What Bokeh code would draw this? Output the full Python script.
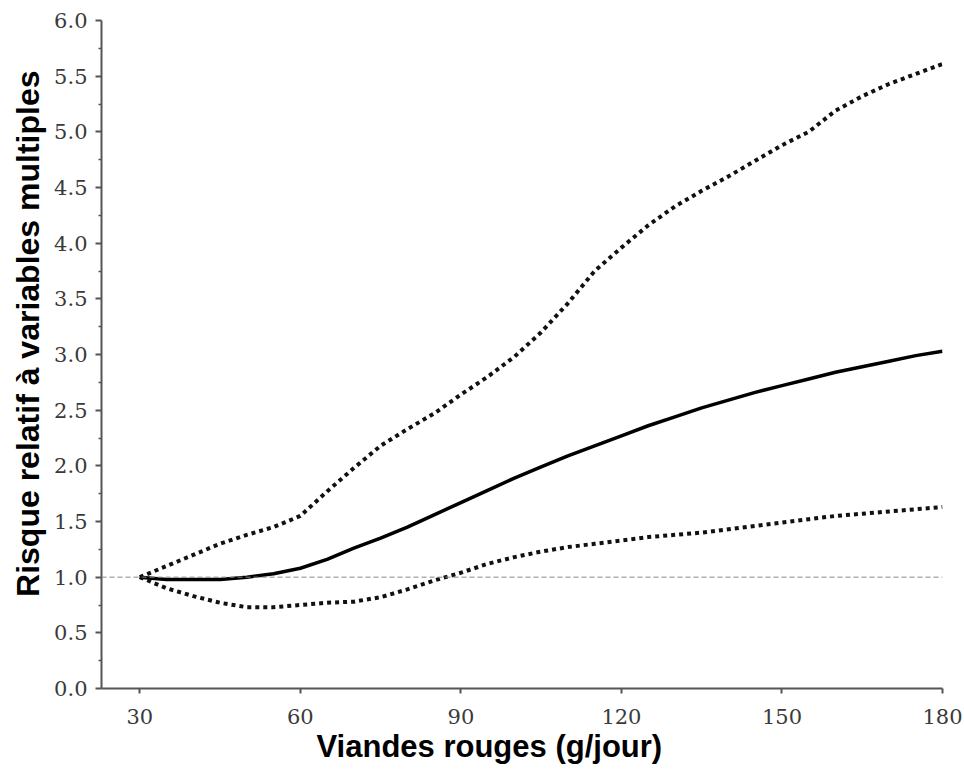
from bokeh.plotting import figure
from bokeh.models import Range1d, FixedTicker, Span, PrintfTickFormatter, Title
from bokeh.embed import file_html
from bokeh.resources import INLINE

# Data
x_vals = [30, 35, 40, 45, 50, 55, 60, 65, 70, 75, 80, 85, 90, 95, 100, 105,
          110, 115, 120, 125, 130, 135, 140, 145, 150, 155, 160, 165, 170, 175, 180]
rr_central = [1.00, 0.98, 0.98, 0.98, 1.00, 1.03, 1.08, 1.16, 1.26, 1.35, 1.45, 1.56,
              1.67, 1.78, 1.89, 1.99, 2.09, 2.18, 2.27, 2.36, 2.44, 2.52, 2.59, 2.66,
              2.72, 2.78, 2.84, 2.89, 2.94, 2.99, 3.03]
rr_upper = [1.00, 1.10, 1.20, 1.30, 1.38, 1.45, 1.55, 1.77, 1.98, 2.18, 2.33, 2.47,
            2.64, 2.80, 2.98, 3.20, 3.46, 3.75, 3.96, 4.16, 4.33, 4.47, 4.60, 4.74,
            4.88, 5.00, 5.19, 5.32, 5.43, 5.52, 5.61]
rr_lower = [1.00, 0.90, 0.83, 0.77, 0.73, 0.73, 0.75, 0.77, 0.78, 0.82, 0.89, 0.97,
            1.04, 1.12, 1.18, 1.23, 1.27, 1.30, 1.33, 1.36, 1.38, 1.40, 1.43, 1.46,
            1.49, 1.52, 1.55, 1.57, 1.59, 1.61, 1.63]
reference_rr = 1.0

x_ticks = [30, 60, 90, 120, 150, 180]
y_ticks = [0.0, 0.5, 1.0, 1.5, 2.0, 2.5, 3.0, 3.5, 4.0, 4.5, 5.0, 5.5, 6.0]
y_minor = [0.25 + 0.5 * i for i in range(12)]

x_label = "Viandes rouges (g/jour)"
y_label = "Risque relatif à variables multiples"

p = figure(width=964, height=769, output_backend="svg", toolbar_location=None,
           title=None,
           x_range=Range1d(22.84, 180), y_range=Range1d(0, 6),
           min_border_left=101, min_border_right=22, min_border_top=20,
           min_border_bottom=81)
p.outline_line_color = None
p.xgrid.visible = False
p.ygrid.visible = False
p.background_fill_color = "white"

axis_color = "#555555"
for ax in (p.xaxis[0], p.yaxis[0]):
    ax.axis_line_color = axis_color
    ax.axis_line_width = 2
    ax.major_tick_line_color = axis_color
    ax.major_tick_line_width = 2
    ax.major_tick_in = 0
    ax.minor_tick_in = 0
    ax.minor_tick_line_color = axis_color
    ax.minor_tick_line_width = 1.5
    ax.major_label_text_font = "DejaVu Serif"
    ax.major_label_text_font_size = "21px"
    ax.major_label_text_color = "#3a3a3a"

p.xaxis[0].ticker = FixedTicker(ticks=x_ticks)
p.xaxis[0].major_tick_out = 5
p.xaxis[0].minor_tick_out = 0
p.xaxis[0].major_label_standoff = 15

p.yaxis[0].ticker = FixedTicker(ticks=y_ticks, minor_ticks=y_minor)
p.yaxis[0].formatter = PrintfTickFormatter(format="%.1f")
p.yaxis[0].major_tick_out = 6
p.yaxis[0].minor_tick_out = 3
p.yaxis[0].major_label_standoff = 8

x_title = Title(text=x_label, align="left", offset=215, standoff=0,
                text_font="Liberation Sans", text_font_style="bold",
                text_font_size="31px", text_color="black")
p.add_layout(x_title, "below")

y_title = Title(text=y_label, align="right", offset=50, standoff=12,
                text_font="Liberation Sans", text_font_style="bold",
                text_font_size="32px", text_color="black")
p.add_layout(y_title, "left")

p.add_layout(Span(location=reference_rr, dimension="width", line_color="#888888",
                  line_width=1, line_dash="5 3"))

p.line(x_vals, rr_upper, line_color="#111111", line_width=4, line_dash="4 4")
p.line(x_vals, rr_lower, line_color="#111111", line_width=4, line_dash="4 4")
p.line(x_vals, rr_central, line_color="black", line_width=3.5)

open("out.html", "w").write(file_html(p, INLINE))
